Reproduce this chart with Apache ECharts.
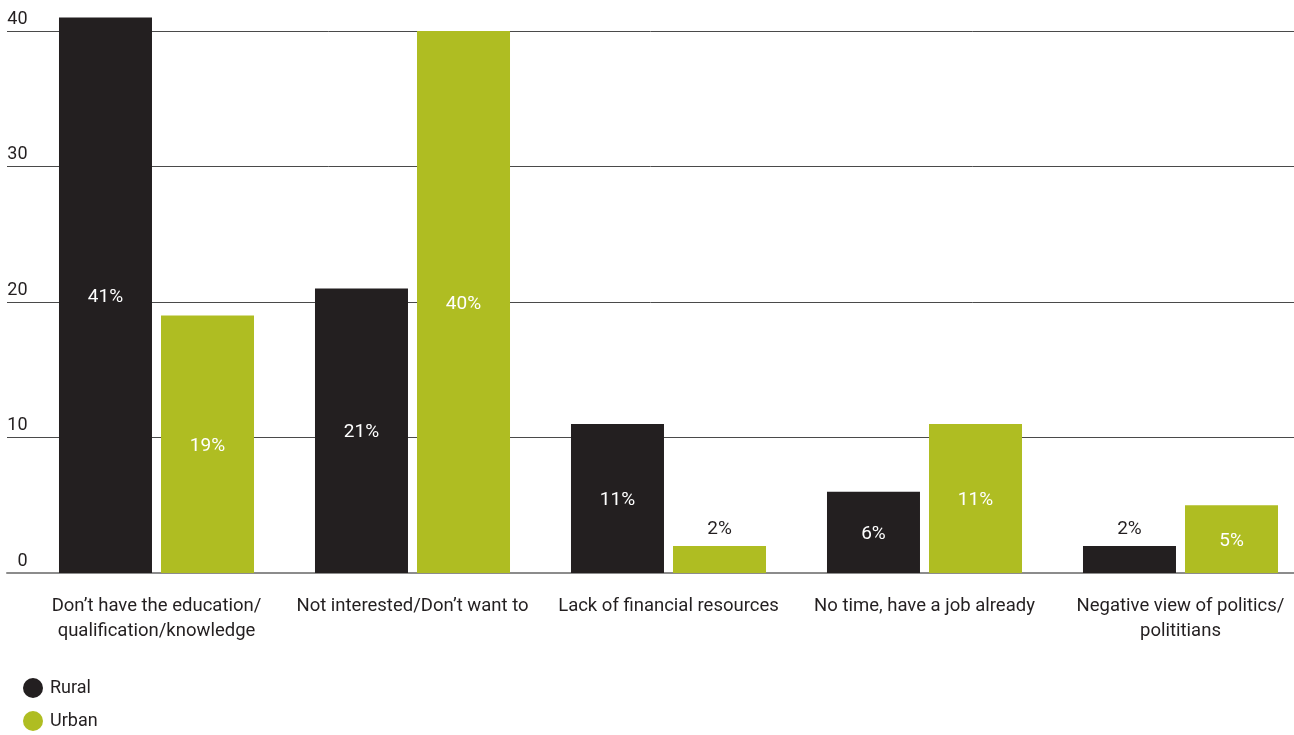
<!DOCTYPE html>
<html>
<head>
<meta charset="utf-8">
<script src="https://cdn.jsdelivr.net/npm/echarts@6/dist/echarts.min.js"></script>
<style>
html,body{margin:0;padding:0;background:#fff;overflow:hidden;}
#wrap{width:1294px;height:735px;overflow:hidden;}
#chart{width:1310px;height:735px;}
</style>
</head>
<body>
<div id="wrap"><div id="chart"></div></div>
<script>
const categories = [
  "Don\u2019t have the education/\nqualification/knowledge",
  "Not interested/Don\u2019t want to",
  "Lack of financial resources",
  "No time, have a job already",
  "Negative view of politics/\npolititians"
];
const rural = [41, 21, 11, 6, 2];
const urban = [19, 40, 2, 11, 5];
const yTicks = [0, 10, 20, 30, 40];

const FONT = "Roboto";
const DARK = "#231f20";
const GREEN = "#afbd22";

function items(arr) {
  return arr.map(v => v < 3
    ? { value: v, label: { position: "top", color: DARK, distance: 9 } }
    : { value: v });
}

const legendText = { fontFamily: FONT, fontSize: 18, color: DARK, padding: [0, 0, 0, 2] };

const chart = echarts.init(document.getElementById("chart"));
chart.setOption({
  animation: false,
  textStyle: { fontFamily: FONT },
  grid: [
    { left: 28.5, top: 31, right: 1.5, bottom: 162, containLabel: false },
    { left: 7, top: 31, right: 16, bottom: 162, containLabel: false }
  ],
  legend: [
    {
      left: 23, top: 678, padding: 0, icon: "circle", itemWidth: 20, itemHeight: 20,
      textStyle: legendText, data: ["Rural"]
    },
    {
      left: 23, top: 711, padding: 0, icon: "circle", itemWidth: 20, itemHeight: 20,
      textStyle: legendText, data: ["Urban"]
    }
  ],
  xAxis: [
    {
      type: "category",
      gridIndex: 0,
      data: categories,
      axisLine: { show: false },
      axisTick: { show: false },
      axisLabel: { color: DARK, fontSize: 18.5, fontFamily: FONT, margin: 21, lineHeight: 25, interval: 0 }
    },
    {
      type: "category",
      gridIndex: 1,
      data: [""],
      axisLine: { show: true, lineStyle: { color: "#8c8c8c", width: 2 } },
      axisTick: { show: false },
      axisLabel: { show: false }
    }
  ],
  yAxis: [
    {
      type: "value",
      gridIndex: 0,
      min: 0, max: 40, interval: 10,
      splitLine: { show: false },
      axisLine: { show: false },
      axisTick: { show: false },
      axisLabel: {
        color: DARK, fontSize: 18, fontFamily: FONT, margin: 1,
        verticalAlign: "bottom", padding: [0, 0, 3, 0],
        formatter: v => yTicks.includes(v) ? String(v) : ""
      }
    },
    {
      type: "value",
      gridIndex: 1,
      min: 0, max: 40, interval: 10,
      splitLine: { show: true, lineStyle: { color: "#4a4a4a", width: 1 } },
      axisLine: { show: false },
      axisTick: { show: false },
      axisLabel: { show: false }
    }
  ],
  series: [
    {
      name: "Rural", type: "bar", xAxisIndex: 0, yAxisIndex: 0,
      data: items(rural),
      barWidth: 93, barGap: "9.7%", clip: false,
      itemStyle: { color: DARK },
      label: { show: true, position: "inside", color: "#fff", fontSize: 19, fontFamily: FONT, formatter: "{c}%", offset: [0, 2] },
      z: 3
    },
    {
      name: "Urban", type: "bar", xAxisIndex: 0, yAxisIndex: 0,
      data: items(urban),
      barWidth: 93, barGap: "9.7%", clip: false,
      itemStyle: { color: GREEN },
      label: { show: true, position: "inside", color: "#fff", fontSize: 19, fontFamily: FONT, formatter: "{c}%", offset: [0, 2] },
      z: 3
    }
  ]
});
</script>
</body>
</html>
